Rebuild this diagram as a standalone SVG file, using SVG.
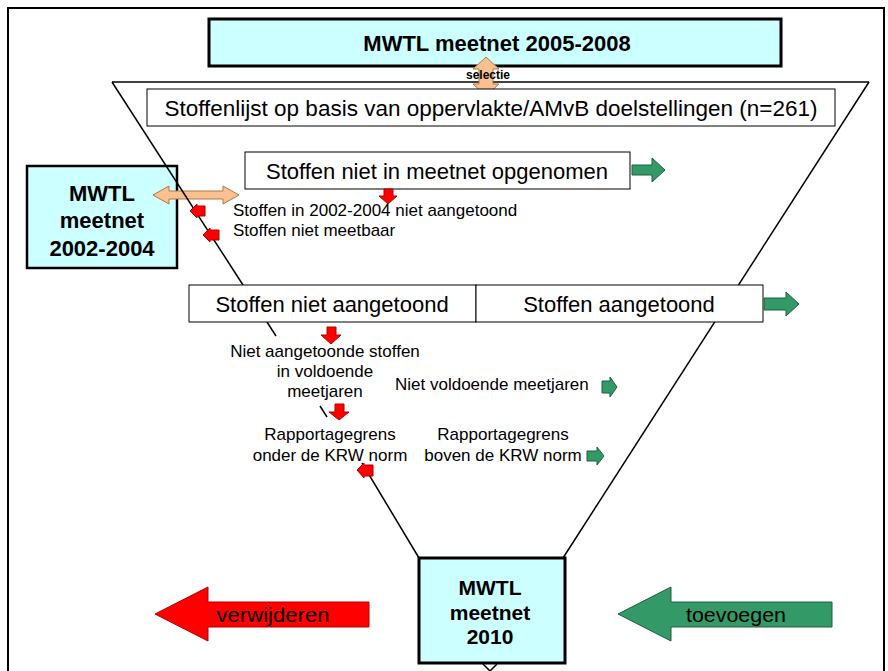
<svg xmlns="http://www.w3.org/2000/svg" width="888" height="671" viewBox="0 0 888 671">
<style>
text{font-family:"Liberation Sans",Arial,sans-serif;fill:#000}
.big{font-size:22px}
.sm{font-size:17px}
.bold{font-weight:bold;font-size:22px}
.cyan{fill:#CCFFFF;stroke:#000;stroke-width:3}
.wbox{fill:#fff;stroke:#000;stroke-width:1}
.ln{stroke:#000;stroke-width:1.5;fill:none}
.red{fill:#FF0000;stroke:#B00000;stroke-width:1}
.grn{fill:#339966;stroke:#1E5E3E;stroke-width:1}
.pch{fill:#FAC08F;stroke:#B07840;stroke-width:1}
</style>
<rect x="0" y="0" width="888" height="671" fill="#fff"/>
<rect x="8" y="8" width="876" height="680" fill="none" stroke="#000" stroke-width="2"/>
<g id="funnel-right">
<path class="ln" d="M112,82 L869,82"/>
<path class="ln" d="M869,82 L563,558"/>
</g>
<g id="top-box">
<rect class="cyan" x="209" y="19" width="572" height="47"/>
<text class="bold" x="497" y="51" text-anchor="middle">MWTL meetnet 2005-2008</text>
</g>
<g id="selectie-arrow">
<path class="pch" d="M486,57 L499,69 L493,69 L493,84 L499,84 L486,96 L473,84 L479,84 L479,69 L473,69 Z"/>
<text x="488" y="79" text-anchor="middle" style="font-size:12px;font-weight:bold">selectie</text>
</g>
<g id="stoffenlijst">
<rect class="wbox" x="147" y="89" width="688" height="37"/>
<text class="big" x="491" y="116" text-anchor="middle" style="font-size:22.5px">Stoffenlijst op basis van oppervlakte/AMvB doelstellingen (n=261)</text>
</g>
<g id="niet-in-meetnet">
<rect class="wbox" x="245" y="152" width="385" height="37"/>
<text class="big" x="437" y="179" text-anchor="middle">Stoffen niet in meetnet opgenomen</text>
<path class="grn" d="M632,165 L652,165 L652,158 L665,170 L652,182 L652,175 L632,175 Z"/>
<path class="red" d="M384,189 L393,189 L393,196 L397,196 L388,204 L379,196 L384,196 Z"/>
</g>
<g id="mwtl-2002">
<rect class="cyan" x="27" y="166" width="150" height="102" style="stroke-width:2.5"/>
<text class="bold" x="102" y="201" text-anchor="middle">MWTL</text>
<text class="bold" x="102" y="228" text-anchor="middle">meetnet</text>
<text class="bold" x="102" y="256" text-anchor="middle">2002-2004</text>
</g>
<g id="h-arrow">
<path class="pch" d="M153,195 L169,186 L169,191 L223,191 L223,186 L239,195 L223,204 L223,199 L169,199 L169,204 Z"/>
</g>
<g id="funnel-left">
<path class="ln" d="M112,82 L243,285"/>
<path class="ln" d="M267,322 L276,336"/>
<path class="ln" d="M320,406 L327,417"/>
<path class="ln" d="M362,463 L419,558"/>
</g>
<g id="niet-aangetoond-2002">
<path class="red" d="M190,211 L197,204 L197,206 L205,206 L205,216 L197,216 L197,218 Z"/>
<path class="red" d="M203,235 L210,228 L210,230 L219,230 L219,240 L210,240 L210,242 Z"/>
<text class="sm" x="233" y="216">Stoffen in 2002-2004 niet aangetoond</text>
<text class="sm" x="233" y="236">Stoffen niet meetbaar</text>
</g>
<g id="row-aangetoond">
<rect class="wbox" x="189" y="285" width="287" height="37"/>
<rect class="wbox" x="476" y="285" width="287" height="37"/>
<text class="big" x="332" y="312" text-anchor="middle">Stoffen niet aangetoond</text>
<text class="big" x="619" y="312" text-anchor="middle">Stoffen aangetoond</text>
<path class="grn" d="M764,298 L786,298 L786,292 L799,304 L786,316 L786,310 L764,310 Z"/>
<path class="red" d="M327,327 L336,327 L336,335 L341,335 L331,344 L321,335 L327,335 Z"/>
</g>
<g id="voldoende">
<text class="sm" x="325" y="357" text-anchor="middle">Niet aangetoonde stoffen</text>
<text class="sm" x="325" y="377" text-anchor="middle">in voldoende</text>
<text class="sm" x="325" y="397" text-anchor="middle">meetjaren</text>
<text class="sm" x="395" y="390">Niet voldoende meetjaren</text>
<path class="grn" d="M602,381 L610,381 L610,377 L617,387 L610,397 L610,393 L602,393 Z"/>
<path class="red" d="M335,404 L344,404 L344,412 L349,412 L339,420 L329,412 L335,412 Z"/>
</g>
<g id="rapportage">
<text class="sm" x="330" y="440" text-anchor="middle">Rapportagegrens</text>
<text class="sm" x="330" y="461" text-anchor="middle">onder de KRW norm</text>
<text class="sm" x="503" y="440" text-anchor="middle">Rapportagegrens</text>
<text class="sm" x="503" y="461" text-anchor="middle">boven de KRW norm</text>
<path class="grn" d="M587,451 L597,451 L597,447 L604,456 L597,465 L597,461 L587,461 Z"/>
<path class="red" d="M357,470 L364,463 L364,465 L373,465 L373,476 L364,476 L364,478 Z"/>
</g>
<g id="mwtl-2010">
<rect class="cyan" x="419" y="558" width="146" height="105"/>
<text class="bold" x="490" y="595" text-anchor="middle" style="font-size:21px">MWTL</text>
<text class="bold" x="490" y="620" text-anchor="middle" style="font-size:21px">meetnet</text>
<text class="bold" x="490" y="644" text-anchor="middle" style="font-size:21px">2010</text>
<path class="ln" d="M483,664 L490,671 L497,664"/>
</g>
<g id="verwijderen">
<path class="red" d="M155,614 L208,587 L208,602 L369,602 L369,627 L208,627 L208,641 Z"/>
<text x="273" y="622" text-anchor="middle" style="font-size:20px" textLength="113" lengthAdjust="spacingAndGlyphs">verwijderen</text>
</g>
<g id="toevoegen">
<path class="grn" d="M618,614 L671,587 L671,602 L832,602 L832,627 L671,627 L671,641 Z"/>
<text x="736" y="622" text-anchor="middle" style="font-size:20px" textLength="100" lengthAdjust="spacingAndGlyphs">toevoegen</text>
</g>
</svg>
